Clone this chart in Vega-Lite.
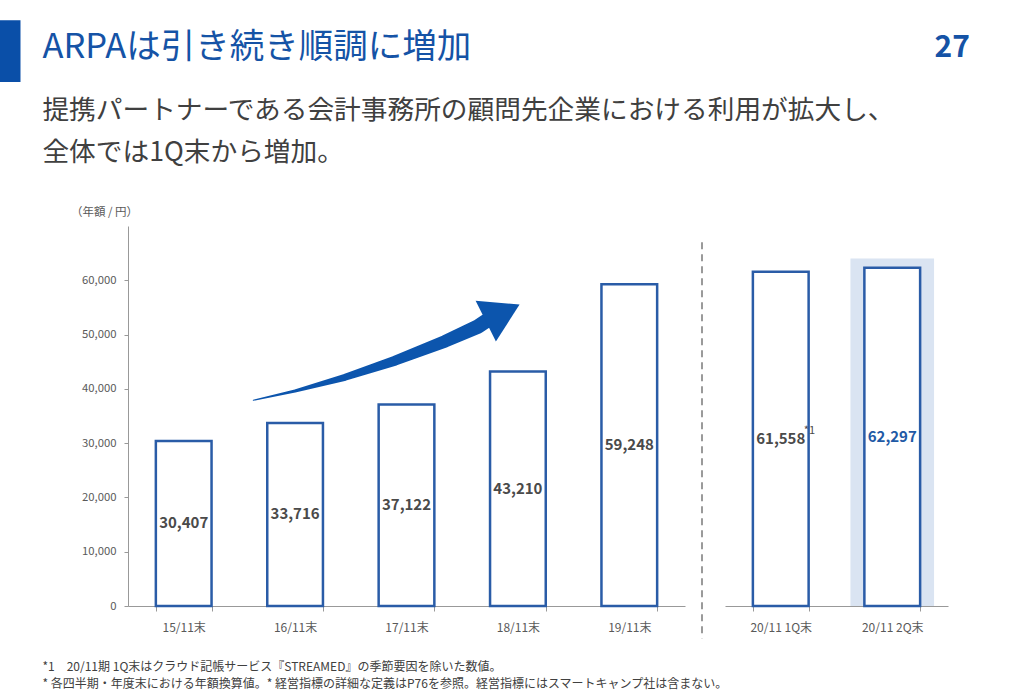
{
  "$schema": "https://vega.github.io/schema/vega-lite/v6.json",
  "background": "white",
  "padding": {"left": 0, "top": 26, "right": 0, "bottom": 0},
  "config": {
    "font": "Noto Sans CJK JP",
    "view": {"stroke": null},
    "axis": {"labelFont": "Noto Sans CJK JP", "titleFont": "Noto Sans CJK JP"},
    "title": {"font": "Noto Sans CJK JP", "subtitleFont": "Noto Sans CJK JP"}
  },
  "datasets": {
    "annual": [
      {"period": "15/11末", "value": 30407},
      {"period": "16/11末", "value": 33716},
      {"period": "17/11末", "value": 37122},
      {"period": "18/11末", "value": 43210},
      {"period": "19/11末", "value": 59248}
    ],
    "quarterly": [
      {"period": "20/11 1Q末", "value": 61558, "note": "*1"},
      {"period": "20/11 2Q末", "value": 62297, "note": ""}
    ],
    "arrow": [
      {"t": 1, "ax": 1.125, "ay": 37892, "w": 1},
      {"t": 2, "ax": 1.499, "ay": 39605, "w": 3},
      {"t": 3, "ax": 1.948, "ay": 42129, "w": 7},
      {"t": 4, "ax": 2.397, "ay": 45187, "w": 10},
      {"t": 5, "ax": 2.846, "ay": 48760, "w": 12.5},
      {"t": 6, "ax": 3.145, "ay": 51524, "w": 14.5},
      {"t": 7, "ax": 3.212, "ay": 52463, "w": 14.5}
    ],
    "arrowHead": [
      {"ax": 3.367, "ay": 54047}
    ]
  },
  "title": {"text": "▌", "anchor": "start", "frame": "bounds", "font": "DejaVu Sans", "fontSize": 52, "fontWeight": "normal", "color": "#0a4fa8", "dx": -42, "offset": -50},
  "vconcat": [
    {
      "title": {
        "text": ["*1　20/11期 1Q末はクラウド記帳サービス『STREAMED』の季節要因を除いた数値。", "* 各四半期・年度末における年額換算値。* 経営指標の詳細な定義はP76を参照。経営指標にはスマートキャンプ社は含まない。"],
        "orient": "bottom", "anchor": "start", "frame": "bounds",
        "font": "Noto Sans CJK JP", "fontSize": 12, "fontWeight": "normal", "color": "#404040", "lineHeight": 17, "offset": 22
      },
      "bounds": "flush",
      "spacing": 40,
      "hconcat": [
        {
          "width": 557,
          "height": 380,
          "title": {
            "text": "ARPAは引き続き順調に増加",
            "subtitle": ["提携パートナーである会計事務所の顧問先企業における利用が拡大し、", "全体では1Q末から増加。"],
            "anchor": "start", "frame": "bounds",
            "font": "Noto Sans CJK JP", "fontSize": 34.5, "fontWeight": "normal", "color": "#1553a6",
            "subtitleFont": "Noto Sans CJK JP", "subtitleFontSize": 26.7, "subtitleColor": "#404040",
            "subtitleLineHeight": 42, "subtitlePadding": 33, "offset": 38, "dx": -28
          },
          "layer": [
            {
              "data": {"name": "annual"},
              "mark": {"type": "bar", "fill": "white", "stroke": "#2a5ca7", "strokeWidth": 2.5},
              "encoding": {
                "x": {
                  "field": "period", "type": "nominal", "sort": null,
                  "scale": {"domain": ["15/11末", "16/11末", "17/11末", "18/11末", "19/11末"], "paddingInner": 0.5, "paddingOuter": 0.25},
                  "axis": {"title": null, "labelAngle": 0, "tickBand": "extent", "domainColor": "#999999", "tickColor": "#999999", "tickSize": 5, "labelPadding": 11, "labelFontSize": 12, "labelColor": "#595959"}
                },
                "y": {
                  "field": "value", "type": "quantitative",
                  "scale": {"domain": [0, 70000], "nice": false},
                  "axis": {
                    "values": [0, 10000, 20000, 30000, 40000, 50000, 60000], "format": ",d", "grid": false,
                    "domainColor": "#999999", "tickColor": "#999999", "tickSize": 4, "labelPadding": 8,
                    "labelFontSize": 11.3, "labelColor": "#595959",
                    "title": "（年額 / 円）", "titleAngle": 0, "titleX": -24, "titleY": -14,
                    "titleAlign": "center", "titleBaseline": "middle", "titleFontSize": 11.5,
                    "titleFontWeight": "normal", "titleColor": "#595959"
                  }
                }
              }
            },
            {
              "data": {"name": "annual"},
              "mark": {"type": "text", "fontSize": 15, "fontWeight": "bold", "color": "#4a4a4a", "baseline": "middle"},
              "encoding": {
                "x": {"field": "period", "type": "nominal", "sort": null, "scale": {"domain": ["15/11末", "16/11末", "17/11末", "18/11末", "19/11末"], "paddingInner": 0.5, "paddingOuter": 0.25}, "axis": null},
                "y": {"field": "value", "type": "quantitative", "scale": {"domain": [0, 140000], "nice": false}, "axis": null},
                "text": {"field": "value", "type": "quantitative", "format": ","}
              }
            },
            {
              "data": {"name": "arrow"},
              "mark": {"type": "trail", "color": "#0c55ad"},
              "encoding": {
                "x": {"field": "ax", "type": "quantitative", "scale": {"domain": [0, 5], "nice": false, "zero": false}, "axis": null},
                "y": {"field": "ay", "type": "quantitative", "scale": {"domain": [0, 70000], "nice": false}, "axis": null},
                "size": {"field": "w", "type": "quantitative", "scale": {"domain": [0, 45], "range": [0, 45]}, "legend": null},
                "order": {"field": "t"}
              }
            },
            {
              "data": {"name": "arrowHead"},
              "mark": {"type": "point", "filled": true, "color": "#0c55ad", "opacity": 1, "shape": "M0.8,0L-0.84,-0.99L-0.84,0.99Z", "size": 2116, "angle": -26.4, "strokeWidth": 0},
              "encoding": {
                "x": {"field": "ax", "type": "quantitative", "scale": {"domain": [0, 5], "nice": false, "zero": false}, "axis": null},
                "y": {"field": "ay", "type": "quantitative", "scale": {"domain": [0, 70000], "nice": false}, "axis": null}
              }
            },
            {
              "data": {"values": [{}]},
              "mark": {"type": "rule", "color": "#9a9a9a", "strokeWidth": 2, "strokeDash": [7, 5]},
              "encoding": {
                "x": {"datum": "19/11末", "type": "nominal", "bandPosition": 1.805, "scale": {"domain": ["15/11末", "16/11末", "17/11末", "18/11末", "19/11末"], "paddingInner": 0.5, "paddingOuter": 0.25}, "axis": null},
                "y": {"datum": 67000, "type": "quantitative", "scale": {"domain": [0, 70000], "nice": false}, "axis": null},
                "y2": {"datum": -6000}
              }
            }
          ],
          "resolve": {"scale": {"x": "independent", "y": "independent"}}
        },
        {
          "width": 223,
          "height": 380,
          "title": {"text": "27", "anchor": "end", "frame": "bounds", "font": "Noto Sans CJK JP", "fontSize": 30, "fontWeight": "bold", "color": "#1553a6", "offset": 163, "dx": 22},
          "layer": [
            {
              "data": {"name": "quarterly"},
              "transform": [{"filter": "datum.period === '20/11 2Q末'"}],
              "mark": {"type": "bar", "color": "#dae4f2", "width": {"band": 1.5}},
              "encoding": {
                "x": {"field": "period", "type": "nominal", "sort": null, "scale": {"domain": ["20/11 1Q末", "20/11 2Q末"], "paddingInner": 0.5, "paddingOuter": 0.25}, "axis": null},
                "y": {"datum": 64000, "type": "quantitative", "scale": {"domain": [0, 70000], "nice": false}, "axis": null},
                "y2": {"datum": 0}
              }
            },
            {
              "data": {"name": "quarterly"},
              "mark": {"type": "bar", "fill": "white", "stroke": "#2a5ca7", "strokeWidth": 2.5},
              "encoding": {
                "x": {
                  "field": "period", "type": "nominal", "sort": null,
                  "scale": {"domain": ["20/11 1Q末", "20/11 2Q末"], "paddingInner": 0.5, "paddingOuter": 0.25},
                  "axis": {"title": null, "labelAngle": 0, "tickBand": "extent", "domainColor": "#999999", "tickColor": "#999999", "tickSize": 5, "labelPadding": 11, "labelFontSize": 12, "labelColor": "#595959"}
                },
                "y": {"field": "value", "type": "quantitative", "scale": {"domain": [0, 70000], "nice": false}, "axis": null}
              }
            },
            {
              "data": {"name": "quarterly"},
              "mark": {"type": "text", "fontSize": 15, "fontWeight": "bold", "baseline": "middle"},
              "encoding": {
                "x": {"field": "period", "type": "nominal", "sort": null, "scale": {"domain": ["20/11 1Q末", "20/11 2Q末"], "paddingInner": 0.5, "paddingOuter": 0.25}, "axis": null},
                "y": {"field": "value", "type": "quantitative", "scale": {"domain": [0, 140000], "nice": false}, "axis": null},
                "text": {"field": "value", "type": "quantitative", "format": ","},
                "color": {"condition": {"test": "datum.period === '20/11 2Q末'", "value": "#1f5aa6"}, "value": "#4a4a4a"}
              }
            },
            {
              "data": {"name": "quarterly"},
              "transform": [{"filter": "datum.note !== ''"}],
              "mark": {"type": "text", "fontSize": 11, "color": "#4a4a4a", "align": "left", "baseline": "middle", "dx": 23, "dy": -8},
              "encoding": {
                "x": {"field": "period", "type": "nominal", "sort": null, "scale": {"domain": ["20/11 1Q末", "20/11 2Q末"], "paddingInner": 0.5, "paddingOuter": 0.25}, "axis": null},
                "y": {"field": "value", "type": "quantitative", "scale": {"domain": [0, 140000], "nice": false}, "axis": null},
                "text": {"field": "note"}
              }
            }
          ],
          "resolve": {"scale": {"x": "independent", "y": "independent"}}
        }
      ]
    }
  ]
}
